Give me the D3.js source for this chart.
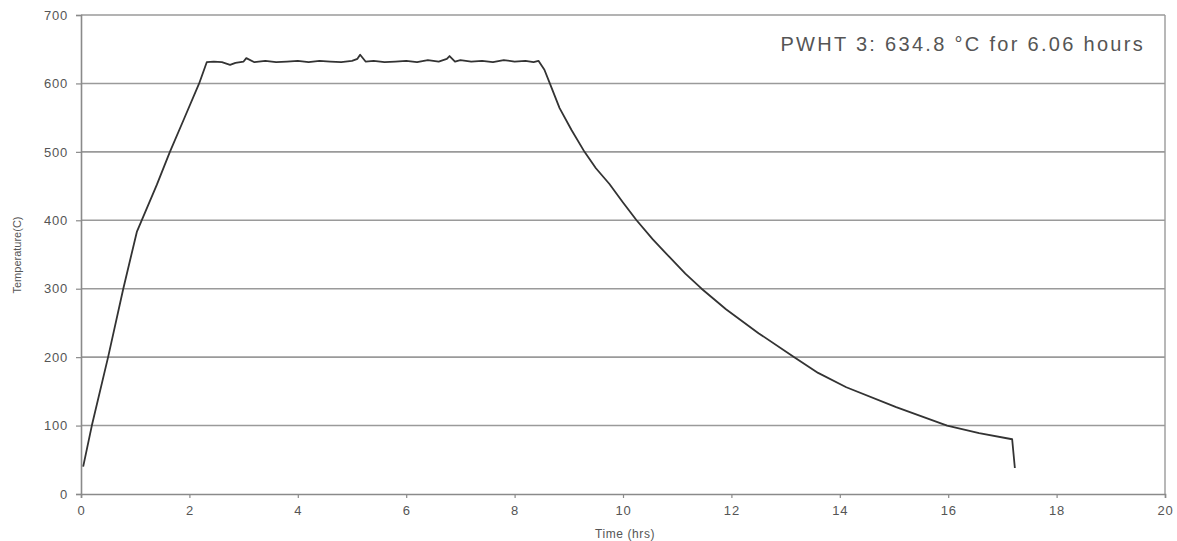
<!DOCTYPE html>
<html>
<head>
<meta charset="utf-8">
<script src="https://cdn.jsdelivr.net/npm/d3@7"></script>
<style>
  body { margin: 0; background: #fff; }
  svg { display: block; }
</style>
</head>
<body>
<svg id="chart" width="1177" height="541"></svg>
<script>
// time (hrs) and temperature (C)
var timeHrs = [0.04, 0.2, 0.5, 0.78, 1.03, 1.12, 1.4, 1.64, 1.9, 2.18, 2.32,
  2.45, 2.6, 2.75, 2.85, 3.0, 3.05, 3.2, 3.4, 3.6, 3.8, 4.0, 4.2, 4.4, 4.6, 4.8,
  5.0, 5.1, 5.15, 5.25, 5.4, 5.6, 5.8, 6.0, 6.2, 6.4, 6.6, 6.75, 6.8, 6.9, 7.0,
  7.2, 7.4, 7.6, 7.8, 8.0, 8.2, 8.35, 8.44,
  8.55, 8.65, 8.83, 9.05, 9.29, 9.5, 9.75, 10.0, 10.25, 10.55, 10.86, 11.15, 11.45,
  11.9, 12.5, 13.16, 13.6, 14.12, 15.04, 15.98, 16.57, 17.18, 17.23];
var tempC = [40, 100, 200, 300, 383, 400, 452, 500, 548, 600, 631,
  632, 631, 627, 630, 632, 637, 631, 633, 631, 632, 633, 631, 633, 632, 631,
  633, 636, 642, 632, 633, 631, 632, 633, 631, 634, 632, 636, 640, 632, 634,
  632, 633, 631, 634, 632, 633, 631, 633,
  620, 600, 564, 532, 500, 476, 453, 426, 400, 372, 346, 322, 300,
  270, 235, 200, 177, 156, 127, 100, 89, 80, 38];
var xTicks = [0, 2, 4, 6, 8, 10, 12, 14, 16, 18, 20];
var yTicks = [0, 100, 200, 300, 400, 500, 600, 700];
var noteText = "PWHT 3: 634.8 \u00B0C for 6.06 hours";

var svg = d3.select('#chart');
var plotLeft = 81, plotRight = 1165, plotTop = 15, plotBottom = 494;

var x = d3.scaleLinear().domain([0, 20]).range([plotLeft, plotRight]);
var y = d3.scaleLinear().domain([0, 700]).range([plotBottom, plotTop]);

// horizontal gridlines
svg.append('g')
  .selectAll('line')
  .data(yTicks.filter(function (d) { return d > 0; }))
  .enter()
  .append('line')
  .attr('x1', plotLeft).attr('x2', plotRight)
  .attr('y1', function (d) { return y(d); })
  .attr('y2', function (d) { return y(d); })
  .attr('stroke', '#9a9a9a')
  .attr('stroke-width', 1.6);

// right border
svg.append('line')
  .attr('x1', plotRight).attr('x2', plotRight)
  .attr('y1', plotTop).attr('y2', plotBottom)
  .attr('stroke', '#9a9a9a').attr('stroke-width', 1.4);

var xAxis = svg.append('g')
  .attr('transform', 'translate(0,' + plotBottom + ')')
  .call(d3.axisBottom(x).tickValues(xTicks).tickSize(4).tickPadding(8));
var yAxis = svg.append('g')
  .attr('transform', 'translate(' + plotLeft + ',0)')
  .call(d3.axisLeft(y).tickValues(yTicks).tickSize(5).tickPadding(8));

[xAxis, yAxis].forEach(function (a) {
  a.select('.domain').attr('stroke', '#8a8a8a').attr('stroke-width', 1.6);
  a.selectAll('.tick line').attr('stroke', '#8a8a8a').attr('stroke-width', 1.2);
  a.selectAll('.tick text')
    .attr('fill', '#555')
    .style('font-family', 'Liberation Sans, Arial, sans-serif')
    .style('font-size', '13px')
    .style('letter-spacing', '0.8px');
});

// temperature curve
var pts = timeHrs.map(function (t, i) { return [t, tempC[i]]; });
var line = d3.line()
  .x(function (d) { return x(d[0]); })
  .y(function (d) { return y(d[1]); });
svg.append('path')
  .datum(pts)
  .attr('d', line)
  .attr('fill', 'none')
  .attr('stroke', '#333')
  .attr('stroke-width', 1.8)
  .attr('stroke-linejoin', 'round');

// annotation
svg.append('text')
  .attr('x', 1145).attr('y', 51)
  .attr('text-anchor', 'end')
  .attr('fill', '#555')
  .style('font-family', 'Liberation Sans, Arial, sans-serif')
  .style('font-size', '20px')
  .style('letter-spacing', '2.3px')
  .text(noteText);

// axis titles
svg.append('text')
  .attr('transform', 'translate(21,255) rotate(-90)')
  .attr('text-anchor', 'middle')
  .attr('fill', '#555')
  .style('font-family', 'Liberation Sans Narrow, Liberation Sans, sans-serif')
  .style('font-size', '11px')
  .text('Temperature(C)');
svg.append('text')
  .attr('x', 625).attr('y', 538)
  .attr('text-anchor', 'middle')
  .attr('fill', '#555')
  .style('font-family', 'Liberation Sans, Arial, sans-serif')
  .style('font-size', '12px')
  .style('letter-spacing', '0.6px')
  .text('Time (hrs)');
</script>
</body>
</html>
